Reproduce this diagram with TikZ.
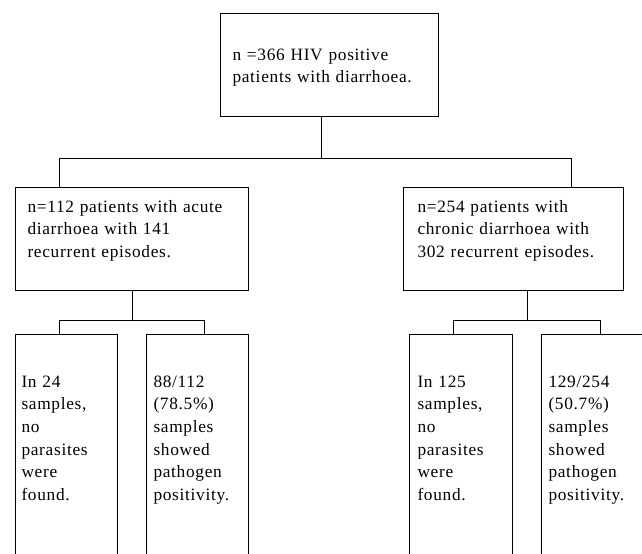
\documentclass[tikz,border=0pt]{standalone}
\usepackage{fontspec}
\setmainfont{Liberation Serif}[LetterSpace=4]

\tikzset{every picture/.style={line width=0.75pt}}
\tikzset{box/.style={draw, align=left, anchor=base west, inner ysep=0pt, font=\fontsize{13}{17}\selectfont}}

\begin{document}
\begin{tikzpicture}[x=0.75pt,y=0.75pt,yscale=-1,xscale=1]
        \useasboundingbox (0,0) rectangle (642,553);
        \clip (0,0) rectangle (642,553);

        %Top box
        \node[box, inner xsep=9pt, text width=145.5pt, text height=35.25pt, text depth=42pt] (top) at (220,60) {n =366 HIV positive\\patients with diarrhoea.};

        %Second level
        \node[box, inner xsep=9pt, text width=156.75pt, text height=18.75pt, text depth=58.5pt] (acute) at (15,212) {n=112 patients with acute\\diarrhoea with 141\\recurrent episodes.};
        \node[box, inner xsep=10.5pt, text width=144pt, text height=18.75pt, text depth=58.5pt] (chronic) at (403,212) {n=254 patients with\\chronic diarrhoea with\\302 recurrent episodes.};

        %Third level
        \node[box, inner xsep=4.5pt, text width=67.5pt, text height=39.75pt, text depth=160pt] (acuteneg) at (15,387) {In 24\\samples,\\no\\parasites\\were\\found.};
        \node[box, inner xsep=5.25pt, text width=66pt, text height=39.75pt, text depth=160pt] (acutepos) at (146,387) {88/112\\(78.5\%)\\samples\\showed\\pathogen\\positivity.};
        \node[box, inner xsep=6pt, text width=65.25pt, text height=39.75pt, text depth=160pt] (chronneg) at (409,387) {In 125\\samples,\\no\\parasites\\were\\found.};
        \node[box, inner xsep=5.25pt, text width=72pt, text height=39.75pt, text depth=160pt] (chronpos) at (541,387) {129/254\\(50.7\%)\\samples\\showed\\pathogen\\positivity.};

        %Connectors
        \coordinate (jtop) at (321,158);
        \coordinate (jl) at (59,158);
        \coordinate (jr) at (571,158);
        \draw (top.south -| jtop) -- (jtop);
        \draw (acute.north -| jl) -- (jl) -- (jr) -- (chronic.north -| jr);

        \coordinate (ja) at (132,320);
        \coordinate (ja1) at (59,320);
        \coordinate (ja2) at (204,320);
        \draw (acute.south -| ja) -- (ja);
        \draw (acuteneg.north -| ja1) -- (ja1) -- (ja2) -- (acutepos.north -| ja2);

        \coordinate (jc) at (527,320);
        \coordinate (jc1) at (453,320);
        \coordinate (jc2) at (600,320);
        \draw (chronic.south -| jc) -- (jc);
        \draw (chronneg.north -| jc1) -- (jc1) -- (jc2) -- (chronpos.north -| jc2);

\end{tikzpicture}
\end{document}
